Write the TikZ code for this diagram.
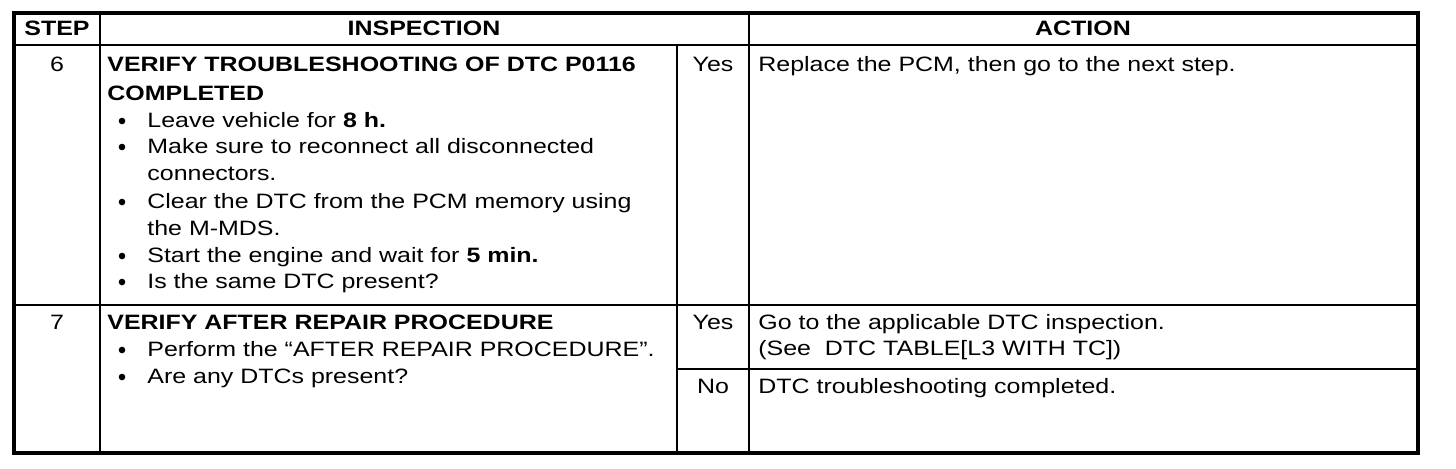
\documentclass[tikz,border=0pt]{standalone}
\usepackage{fontspec}
\setmainfont{Liberation Sans}[FakeStretch=1.2]
\begin{document}
\begin{tikzpicture}[x=0.5pt,y=-0.5pt,
  txt/.style={anchor=base west,inner sep=0pt,font=\fontsize{10.4}{13}\selectfont},
  ctr/.style={txt,anchor=base},
  ttl/.style={txt,font=\fontsize{10.4}{13}\selectfont\bfseries},
  hd/.style={ctr,font=\fontsize{10.4}{13}\selectfont\bfseries},
  dot/.style={circle,fill,inner sep=0pt,minimum size=3.3pt},
  rule/.style={line width=1.2pt},
  frame/.style={line width=1.6pt}]
\useasboundingbox(0,0)rectangle(1456,468);
\draw[rule](14,45)--(1418,45);
\draw[rule](14,305)--(1418,305);
\draw[rule](677,369)--(1418,369);
\draw[rule](100,13)--(100,453);
\draw[rule](677,45)--(677,453);
\draw[rule](749,13)--(749,453);
\draw[frame](14,13)rectangle(1418,453);
\node[hd](hstep)at(57,35){STEP};
\node[hd](hinsp)at(424,35){INSPECTION};
\node[hd](hact)at(1083,35){ACTION};
\node[ctr](s6)at(57,71){6};
\node[ttl](t6a)at(107,71){VERIFY TROUBLESHOOTING OF DTC P0116};
\node[ttl](t6b)at(107,100){COMPLETED};
\foreach\y/\lbl[count=\i]in{127/{Leave vehicle for \textbf{8 h.}},153/{Make sure to reconnect all disconnected},208/{Clear the DTC from the PCM memory using},262/{Start the engine and wait for \textbf{5 min.}},288/{Is the same DTC present?}}{
  \node[dot](b6\i)at(122,\y-6){};
  \node[txt](i6\i)at(147,\y){\lbl};}
\node[txt](i6c)at(147,180){connectors.};
\node[txt](i6d)at(147,235){the M-MDS.};
\node[ctr](y6)at(713,71){Yes};
\node[txt](a6)at(758,71){Replace the PCM, then go to the next step.};
\node[ctr](s7)at(57,329){7};
\node[ttl](t7)at(107,329){VERIFY AFTER REPAIR PROCEDURE};
\foreach\y/\lbl[count=\i]in{356/{Perform the “AFTER REPAIR PROCEDURE”.},383/{Are any DTCs present?}}{
  \node[dot](b7\i)at(122,\y-6){};
  \node[txt](i7\i)at(147,\y){\lbl};}
\node[ctr](y7)at(713,329){Yes};
\node[txt](a7a)at(758,329){Go to the applicable DTC inspection.};
\node[txt](a7b)at(758,355){(See\ \ DTC TABLE[L3 WITH TC])};
\node[ctr](n7)at(713,393){No};
\node[txt](a7c)at(758,393){DTC troubleshooting completed.};
\end{tikzpicture}
\end{document}
